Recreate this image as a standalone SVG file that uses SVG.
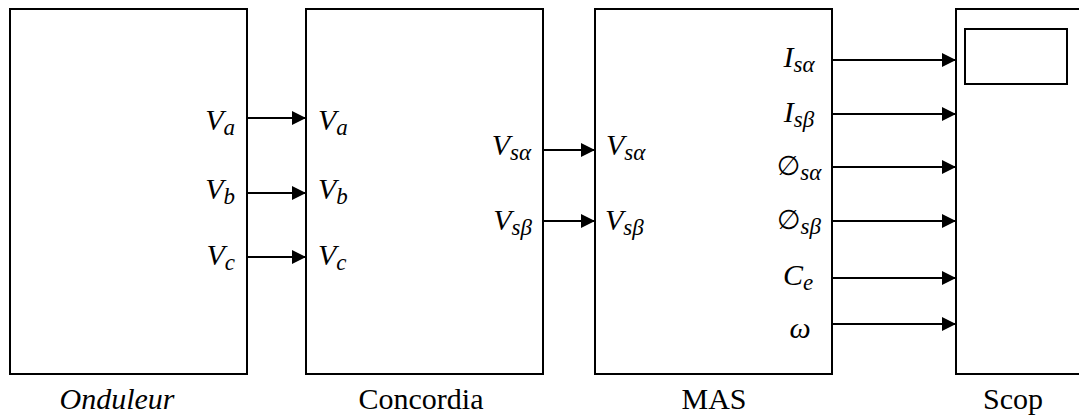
<svg xmlns="http://www.w3.org/2000/svg" width="1079" height="415" viewBox="0 0 1079 415">
<defs>
<marker id="ah" markerWidth="15" markerHeight="15" refX="14" refY="7" orient="auto" markerUnits="userSpaceOnUse">
<path d="M0,0 L14,7 L0,14 Z" fill="#000"/>
</marker>
<style>
.box{fill:#fff;stroke:#000;stroke-width:2}
.conn{stroke:#000;stroke-width:2;fill:none;marker-end:url(#ah)}
.m{font-family:'Times New Roman','Liberation Serif',Tinos,'DejaVu Serif',serif;font-style:italic;font-size:30px;fill:#000}
.sub{font-size:23px}
.t{font-family:'Times New Roman','Liberation Serif',Tinos,'DejaVu Serif',serif;font-size:30px;fill:#000}
.phi{font-family:'DejaVu Sans',sans-serif;font-style:normal;font-size:27px}
</style>
</defs>
<rect width="1079" height="415" fill="#fff"/>
<g id="onduleur">
<rect class="box" x="10" y="9" width="237" height="365"/>
<text class="m" x="235" y="130" text-anchor="end">V<tspan class="sub" dy="5">a</tspan></text>
<text class="m" x="235" y="199" text-anchor="end">V<tspan class="sub" dy="5">b</tspan></text>
<text class="m" x="235" y="265" text-anchor="end">V<tspan class="sub" dy="5">c</tspan></text>
<text class="t" x="117" y="409" text-anchor="middle" font-style="italic">Onduleur</text>
</g>
<g id="concordia">
<rect class="box" x="306" y="9" width="237" height="365"/>
<text class="m" x="318" y="130">V<tspan class="sub" dy="5">a</tspan></text>
<text class="m" x="318" y="199">V<tspan class="sub" dy="5">b</tspan></text>
<text class="m" x="318" y="265">V<tspan class="sub" dy="5">c</tspan></text>
<text class="m" x="531" y="155" text-anchor="end">V<tspan class="sub" dy="5">sα</tspan></text>
<text class="m" x="532" y="230" text-anchor="end">V<tspan class="sub" dy="5">sβ</tspan></text>
<text class="t" x="421" y="409" text-anchor="middle">Concordia</text>
</g>
<g id="mas">
<rect class="box" x="595" y="9" width="237" height="365"/>
<text class="m" x="606" y="155">V<tspan class="sub" dy="5">sα</tspan></text>
<text class="m" x="605" y="230">V<tspan class="sub" dy="5">sβ</tspan></text>
<text class="m" x="799" y="67" text-anchor="middle">I<tspan class="sub" dy="5">sα</tspan></text>
<text class="m" x="799" y="122" text-anchor="middle">I<tspan class="sub" dy="5">sβ</tspan></text>
<text class="m" x="799" y="175" text-anchor="middle"><tspan class="phi">∅</tspan><tspan class="sub" dy="5">sα</tspan></text>
<text class="m" x="799" y="229" text-anchor="middle"><tspan class="phi">∅</tspan><tspan class="sub" dy="5">sβ</tspan></text>
<text class="m" x="798" y="285" text-anchor="middle">C<tspan class="sub" dy="5">e</tspan></text>
<text class="m" x="800" y="338" text-anchor="middle">ω</text>
<text class="t" x="714" y="409" text-anchor="middle">MAS</text>
</g>
<g id="scop">
<rect class="box" x="956" y="9" width="140" height="365"/>
<rect class="box" x="965" y="29" width="102" height="55"/>
<text class="t" x="1013" y="409" text-anchor="middle">Scop</text>
</g>
<g id="connectors">
<line class="conn" x1="247" y1="118" x2="306" y2="118"/>
<line class="conn" x1="247" y1="193" x2="306" y2="193"/>
<line class="conn" x1="247" y1="257" x2="306" y2="257"/>
<line class="conn" x1="543" y1="150" x2="595" y2="150"/>
<line class="conn" x1="543" y1="221" x2="595" y2="221"/>
<line class="conn" x1="832" y1="60" x2="956" y2="60"/>
<line class="conn" x1="832" y1="114" x2="956" y2="114"/>
<line class="conn" x1="832" y1="167" x2="956" y2="167"/>
<line class="conn" x1="832" y1="221" x2="956" y2="221"/>
<line class="conn" x1="832" y1="278" x2="956" y2="278"/>
<line class="conn" x1="832" y1="324" x2="956" y2="324"/>
</g>
</svg>
